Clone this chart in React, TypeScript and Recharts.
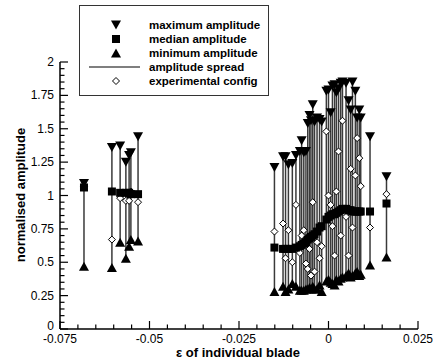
import { ComposedChart, Scatter, ErrorBar, XAxis, YAxis } from "recharts";

const eps = [
  -0.0683, -0.0605, -0.0582, -0.0566, -0.0557, -0.0552, -0.0532,
  -0.0151, -0.0127, -0.012, -0.0112, -0.0101, -0.0091, -0.008, -0.0075, -0.0069, -0.0063,
  -0.0058, -0.0053, -0.0049, -0.0044, -0.0039, -0.0032, -0.0025, -0.0019, -0.0006, 0.0,
  0.0006, 0.0011, 0.0017, 0.0022, 0.0028, 0.0034, 0.0039, 0.0049, 0.0056, 0.0062,
  0.0067, 0.0075, 0.008, 0.0086, 0.009, 0.0116, 0.0162,
];
const maxAmp = [
  1.09, 1.36, 1.37, 1.25, 1.3, 1.32, 1.44,
  1.21, 1.29, 1.29, 1.23, 1.24, 1.3, 1.33, 1.41, 1.32, 1.33,
  1.54, 1.6, 1.56, 1.68, 1.55, 1.58, 1.57, 1.55, 1.78, 1.79,
  1.62, 1.82, 1.83, 1.77, 1.8, 1.84, 1.85, 1.84, 1.71, 1.64,
  1.85, 1.78, 1.58, 1.64, 1.58, 1.44, 1.14,
];
const medAmp = [
  1.06, 1.03, 1.02, 1.02, 1.02, 1.01, 1.01,
  0.61, 0.6, 0.6, 0.6, 0.6, 0.61, 0.62, 0.63, 0.64, 0.65,
  0.67, 0.68, 0.69, 0.7, 0.71, 0.73, 0.76, 0.77, 0.82, 0.84,
  0.85, 0.86, 0.86, 0.87, 0.88, 0.89, 0.9, 0.9, 0.89, 0.89,
  0.88, 0.88, 0.88, 0.88, 0.88, 0.88, 0.94,
];
const minAmp = [
  0.47, 0.46, 0.65, 0.53, 0.62, 0.67, 0.66,
  0.28, 0.32, 0.28, 0.3, 0.34, 0.32, 0.29, 0.29, 0.29, 0.3,
  0.3, 0.31, 0.3, 0.32, 0.3, 0.3, 0.33, 0.28, 0.36, 0.37,
  0.35, 0.34, 0.33, 0.37, 0.36, 0.38, 0.39, 0.4, 0.42, 0.39,
  0.4, 0.42, 0.43, 0.4, 0.41, 0.48, 0.54,
];
const cfgAmp = [
  1.07, 0.67, 0.98, 0.96, 0.96, 1.03, 0.95,
  0.73, 0.79, 0.53, 0.74, 0.5, 0.93, 0.57, 0.7, 0.74, 0.49,
  0.45, 0.6, 0.4, 0.95, 0.43, 0.65, 0.53, 0.62, 1.48, 1.0,
  0.93, 0.77, 0.55, 1.03, 1.33, 0.7, 1.56, 0.84, 0.55, 1.2,
  0.76, 1.15, 1.43, 1.28, 1.07, 0.76, 1.01,
];

const xTicks = [
  -0.075, -0.07, -0.065, -0.06, -0.055, -0.05, -0.045, -0.04, -0.035, -0.03, -0.025,
  -0.02, -0.015, -0.01, -0.005, 0, 0.005, 0.01, 0.015, 0.02, 0.025,
];
const xMajor = [-0.075, -0.05, -0.025, 0, 0.025];
const xLabels = ["-0.075", "-0.05", "-0.025", "0", "0.025"];

const yTicks = [
  0, 0.05, 0.1, 0.15, 0.2, 0.25, 0.3, 0.35, 0.4, 0.45, 0.5, 0.55, 0.6, 0.65, 0.7, 0.75,
  0.8, 0.85, 0.9, 0.95, 1, 1.05, 1.1, 1.15, 1.2, 1.25, 1.3, 1.35, 1.4, 1.45, 1.5, 1.55,
  1.6, 1.65, 1.7, 1.75, 1.8, 1.85, 1.9, 1.95, 2,
];
const yMajor = [0, 0.25, 0.5, 0.75, 1, 1.25, 1.5, 1.75, 2];
const yLabels = ["0", "0.25", "0.5", "0.75", "1", "1.25", "1.5", "1.75", "2"];

const legendItems = [
  "maximum amplitude",
  "median amplitude",
  "minimum amplitude",
  "amplitude spread",
  "experimental config",
];

const rows = eps.map((e, i) => ({
  eps: e,
  max: maxAmp[i],
  med: medAmp[i],
  min: minAmp[i],
  cfg: cfgAmp[i],
  spread: [medAmp[i] - minAmp[i], maxAmp[i] - medAmp[i]],
}));

const FONT = '"Liberation Sans", Arial, sans-serif';

const TriDown = ({ cx, cy }: any) => (
  <path d={`M${cx - 5},${cy - 4.5} L${cx + 5},${cy - 4.5} L${cx},${cy + 4.5} Z`} fill="#000" />
);
const TriUp = ({ cx, cy }: any) => (
  <path d={`M${cx - 5},${cy + 4.5} L${cx + 5},${cy + 4.5} L${cx},${cy - 4.5} Z`} fill="#000" />
);
const Square = ({ cx, cy }: any) => <rect x={cx - 4} y={cy - 4} width={8} height={8} fill="#000" />;
const Diamond = ({ cx, cy }: any) => (
  <path
    d={`M${cx},${cy - 3.5} L${cx + 3.5},${cy} L${cx},${cy + 3.5} L${cx - 3.5},${cy} Z`}
    fill="#fff"
    stroke="#000"
    strokeWidth={1}
  />
);
const Nothing = () => <g />;

const XTick = ({ x, y, payload }: any) => {
  const idx = xMajor.indexOf(payload.value);
  const major = idx >= 0;
  return (
    <g>
      <line x1={x} x2={x} y1={y} y2={y - (major ? 8 : 4.5)} stroke="#000" strokeWidth={1.2} />
      {major && (
        <text x={x} y={y + 14} textAnchor="middle" fontSize={12} fontFamily={FONT} fill="#000">
          {xLabels[idx]}
        </text>
      )}
    </g>
  );
};

const YTick = ({ x, y, payload }: any) => {
  const idx = yMajor.indexOf(payload.value);
  const major = idx >= 0;
  // the "0" label sits a little higher so it clears the first x label
  const dy = payload.value === 0 ? 1 : 4;
  return (
    <g>
      <line x1={x} x2={x + (major ? 8 : 4.5)} y1={y} y2={y} stroke="#000" strokeWidth={1.2} />
      {major && (
        <text x={x - 6} y={y + dy} textAnchor="end" fontSize={12} fontFamily={FONT} fill="#000">
          {yLabels[idx]}
        </text>
      )}
    </g>
  );
};

const legendSymbol = (i: number) => {
  if (i === 0) return <TriDown cx={36} cy={7} />;
  if (i === 1) return <Square cx={36} cy={7} />;
  if (i === 2) return <TriUp cx={36} cy={7} />;
  if (i === 3) return <line x1={9} x2={60} y1={7} y2={7} stroke="#555" strokeWidth={1.5} />;
  return <Diamond cx={36} cy={7} />;
};

export default function App() {
  return (
    <div
      style={{
        position: "absolute",
        left: 0,
        top: 0,
        width: 433,
        height: 361,
        background: "#fff",
        fontFamily: FONT,
      }}
    >
      <ComposedChart
        width={433}
        height={361}
        data={rows}
        margin={{ top: 62, right: 15, bottom: 2, left: 0 }}
      >
        <XAxis
          type="number"
          dataKey="eps"
          domain={[-0.075, 0.025]}
          ticks={xTicks}
          interval={0}
          tickSize={0}
          tickMargin={0}
          tick={<XTick />}
          height={30}
          allowDataOverflow
          axisLine={{ stroke: "#000", strokeWidth: 1.5 }}
        />
        <YAxis
          type="number"
          domain={[0, 2]}
          ticks={yTicks}
          interval={0}
          tickSize={0}
          tickMargin={0}
          tick={<YTick />}
          width={60}
          allowDataOverflow
          axisLine={{ stroke: "#000", strokeWidth: 1.5 }}
        />
        <Scatter dataKey="med" shape={<Nothing />} isAnimationActive={false}>
          <ErrorBar dataKey="spread" direction="y" width={0} stroke="#3a3a3a" strokeWidth={1.5} />
        </Scatter>
        <Scatter dataKey="cfg" shape={<Diamond />} isAnimationActive={false} />
        <Scatter dataKey="min" shape={<TriUp />} isAnimationActive={false} />
        <Scatter dataKey="max" shape={<TriDown />} isAnimationActive={false} />
        <Scatter dataKey="med" shape={<Square />} isAnimationActive={false} />
      </ComposedChart>

      <div
        style={{
          position: "absolute",
          left: 79,
          top: 5,
          width: 188,
          height: 89,
          border: "1px solid #333",
          background: "#fff",
        }}
      >
        {legendItems.map((label, i) => (
          <div
            key={label}
            style={{ position: "absolute", left: 0, top: 12 + i * 14, height: 14, width: 188 }}
          >
            <svg width={70} height={14} style={{ position: "absolute", left: 0, top: 0 }}>
              {legendSymbol(i)}
            </svg>
            <span
              style={{
                position: "absolute",
                left: 69,
                top: 0,
                fontSize: 11.5,
                fontWeight: "bold",
                lineHeight: "14px",
                whiteSpace: "nowrap",
              }}
            >
              {label}
            </span>
          </div>
        ))}
      </div>

      <div
        style={{
          position: "absolute",
          left: 238,
          top: 352,
          transform: "translate(-50%, -50%)",
          fontSize: 13,
          fontWeight: "bold",
          whiteSpace: "nowrap",
        }}
      >
        ε of individual blade
      </div>
      <div
        style={{
          position: "absolute",
          left: 20,
          top: 195,
          transform: "translate(-50%, -50%) rotate(-90deg)",
          fontSize: 13,
          fontWeight: "bold",
          whiteSpace: "nowrap",
        }}
      >
        normalised amplitude
      </div>
    </div>
  );
}
